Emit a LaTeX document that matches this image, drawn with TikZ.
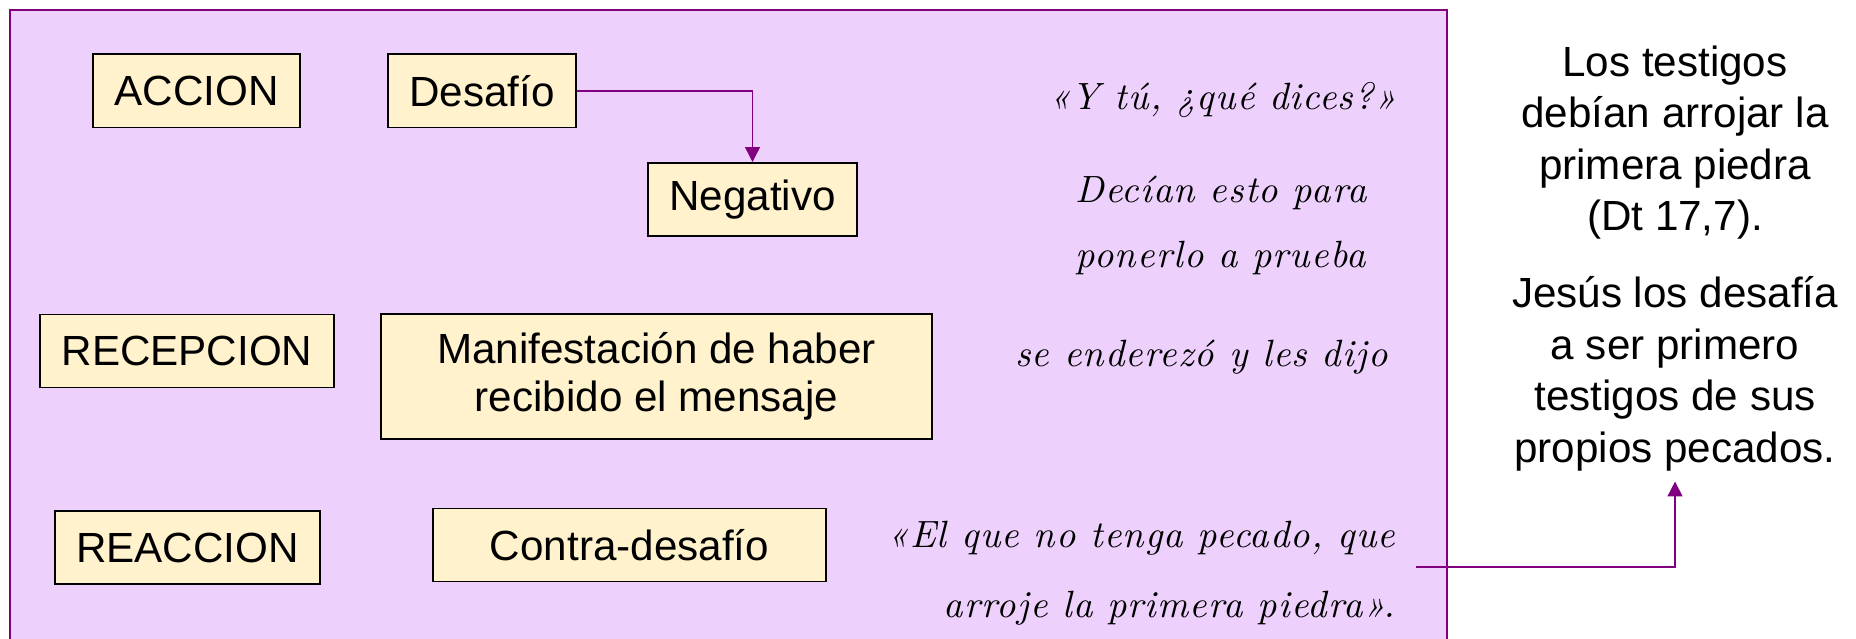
\documentclass[tikz,border=0pt]{standalone}
\usepackage{fontspec}
\setmainfont{Liberation Sans}
\newfontfamily\citafont[LetterSpace=3]{lmroman10-italic.otf}
\usetikzlibrary{arrows.meta}
\definecolor{morado}{RGB}{128,0,128}
\definecolor{lila}{RGB}{237,209,252}
\definecolor{crema}{RGB}{255,242,204}

\begin{document}
\begin{tikzpicture}[x=0.0125cm, y=-0.0125cm,
    caja/.style={draw, line width=0.7pt, fill=crema, inner xsep=0.27cm, inner ysep=0pt,
      minimum height=0.9125cm, font=\fontsize{15}{17}\selectfont},
    cita/.style={inner sep=0pt, font=\citafont\fontsize{13.5}{23.1}\selectfont},
    texto/.style={align=center, inner sep=3.5pt, font=\fontsize{15}{18.3}\selectfont},
    flecha/.style={morado, line width=0.55pt, -{Triangle[length=5.3pt, width=5.3pt]}}]
  \useasboundingbox (0,0) rectangle (1856,639);
  % fondo lila
  \fill[lila] (10,10) rectangle (1447,639);
  \draw[morado, line width=0.7pt] (10,639) -- (10,10) -- (1447,10) -- (1447,639);

  % columna de etapas
  \node[caja] (accion) at (196.5,91) {ACCION};
  \node[caja] (recepcion) at (187,351) {RECEPCION};
  \node[caja] (reaccion) at (187.5,547.5) {REACCION};

  % contenido
  \node[caja] (desafio) at (482,91) {Desafío};
  \node[caja] (negativo) at (752.5,199.5) {Negativo};
  \node[caja, minimum width=6.8875cm, minimum height=1.5625cm, align=center] (manifestacion)
    at (656.5,376.5) {Manifestación de haber\\recibido el mensaje};
  \node[caja, minimum width=4.9125cm] (contra) at (629.5,545) {Contra-desafío};
  \draw[flecha] (desafio.east) -| (negativo.north);

  % citas
  \node[cita, anchor=base east] (cita1) at (1397,110) {«Y tú, ¿qué dices?»};
  \node[cita, align=center] (cita2) at (1221,225.5) {Decían esto para\\ponerlo a prueba};
  \node[cita, anchor=base east] (cita3) at (1388,367) {se enderezó y les dijo};
  \node[cita, align=right, anchor=east, font=\citafont\fontsize{13.5}{24.9}\selectfont] (cita4)
    at (1396,573.5) {«El que no tenga pecado, que\\arroje la primera piedra».};

  % nota al margen
  \node[texto] (texto1) at (1675,142.5) {Los testigos\\debían arrojar la\\primera piedra\\(Dt 17,7).};
  \node[texto] (texto2) at (1675,374) {Jesús los desafía\\a ser primero\\testigos de sus\\propios pecados.};
  \coordinate (salida) at (1416,567);
  \draw[flecha] (salida) -| (texto2.south);
\end{tikzpicture}
\end{document}
